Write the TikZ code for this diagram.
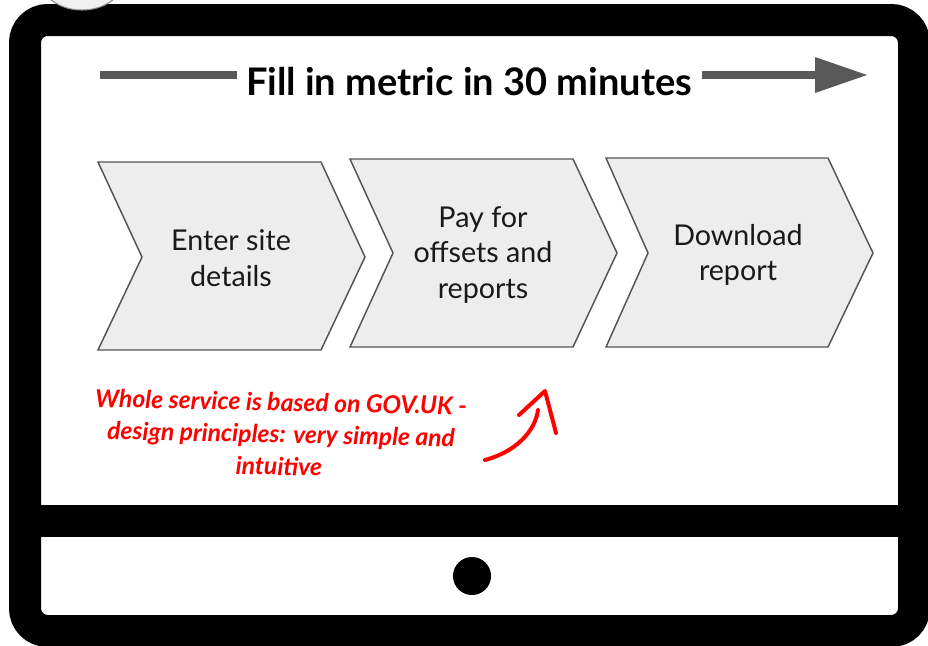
\documentclass[tikz,border=0pt]{standalone}
\usepackage{fontspec}
\setmainfont{Lato}
\begin{document}
\begin{tikzpicture}[x=0.75pt,y=-0.75pt,
  frame/.style={draw=black,line width=24pt,rounded corners=17pt},
  chev/.style={draw=black!67,fill=black!7,line width=1.1pt,line join=miter},
  steptext/.style={align=center,font=\fontsize{21.5}{26.5}\selectfont,text=black!90},
  note/.style={text=red,font=\bfseries\itshape\fontsize{18.5}{22.5}\selectfont,inner sep=0pt,rotate=-1.2},
  graybar/.style={draw=black!65,line width=6pt},
]
\useasboundingbox (0,0) rectangle (928,646);
% monitor frame
\draw[frame] (25,20) rectangle (914,631);
\draw[draw=black,line width=24pt] (25,521) -- (914,521);
% camera ellipse
\draw[draw=black!45,fill=black!6,line width=0.8pt] (82,-18) ellipse [x radius=40, y radius=28];
% home button
\fill[black] (472,576) circle [radius=19];
% title arrow
\node[font=\bfseries\fontsize{28.5}{32}\selectfont] (title) at (469,82) {Fill in metric in 30 minutes};
\coordinate (a0) at (100,75);
\coordinate (a1) at (237,75);
\coordinate (b0) at (702,75);
\coordinate (b1) at (816,75);
\draw[graybar] (a0) -- (a1);
\draw[graybar] (b0) -- (b1);
\fill[black!65] (815,57) -- (867,75) -- (815,93) -- cycle;
% chevrons
\draw[chev] (98,162) -- (321,162) -- (365,257) -- (321,350) -- (98,350) -- (142,257) -- cycle;
\draw[chev] (350,159) -- (573,159) -- (617,253) -- (573,347) -- (350,347) -- (393,253) -- cycle;
\draw[chev] (606,158) -- (828,158) -- (873,253) -- (828,347) -- (606,347) -- (648,253) -- cycle;
\node[steptext] (s1) at (231,258) {Enter site\\details};
\node[steptext] (s2) at (483,255) {Pay for\\offsets and\\reports};
\node[steptext] (s3) at (738,255) {Download\\report};
% note
\node[note] (n1) at (281,402) {Whole service is based on GOV.UK -};
\node[note] (n2) at (281,436) {design principles: very simple and};
\node[note] (n3) at (279,466) {intuitive};
% red arrow
\draw[red,line width=3pt,line cap=round] (485,460) .. controls (515,452) and (535,432) .. (538,410);
\draw[red,line width=3pt,line cap=round,line join=round] (519,415) -- (545,391) -- (556,433);
\end{tikzpicture}
\end{document}
